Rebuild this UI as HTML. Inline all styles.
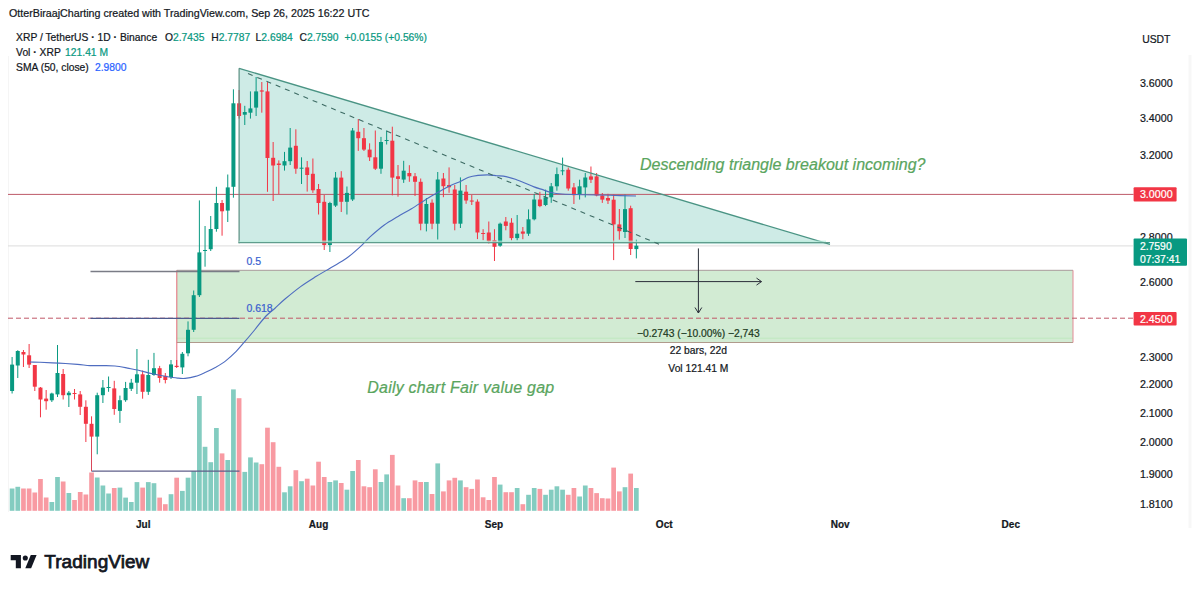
<!DOCTYPE html>
<html><head><meta charset="utf-8"><title>XRP / TetherUS chart</title>
<style>
html,body{margin:0;padding:0;background:#fff;}
body{width:1200px;height:589px;overflow:hidden;position:relative;}
svg{position:absolute;left:0;top:0;display:block;}
text{font-family:'Liberation Sans', Arial, sans-serif;}
.b{stroke:currentColor;stroke-width:0.25px;}
</style></head><body>
<svg width="1200" height="589" viewBox="0 0 1200 589">
<rect x="0" y="0" width="1200" height="589" fill="#ffffff"/>

<line x1="8.5" y1="56" x2="8.5" y2="512" stroke="#f5f5f5" stroke-width="1"/>
<line x1="1190" y1="55" x2="1190" y2="528" stroke="#f7f7f7" stroke-width="3"/>
<rect x="9.75" y="488.5" width="4.7" height="22.3" fill="rgba(8,153,129,0.5)"/>
<rect x="15.42" y="486.8" width="4.7" height="24.0" fill="rgba(8,153,129,0.5)"/>
<rect x="21.10" y="488.5" width="4.7" height="22.3" fill="rgba(242,54,69,0.5)"/>
<rect x="26.77" y="488.5" width="4.7" height="22.3" fill="rgba(242,54,69,0.5)"/>
<rect x="32.45" y="492.5" width="4.7" height="18.3" fill="rgba(242,54,69,0.5)"/>
<rect x="38.12" y="479.0" width="4.7" height="31.8" fill="rgba(242,54,69,0.5)"/>
<rect x="43.80" y="497.5" width="4.7" height="13.3" fill="rgba(242,54,69,0.5)"/>
<rect x="49.48" y="502.0" width="4.7" height="8.8" fill="rgba(8,153,129,0.5)"/>
<rect x="55.15" y="477.0" width="4.7" height="33.8" fill="rgba(8,153,129,0.5)"/>
<rect x="60.82" y="481.5" width="4.7" height="29.3" fill="rgba(242,54,69,0.5)"/>
<rect x="66.50" y="493.0" width="4.7" height="17.8" fill="rgba(8,153,129,0.5)"/>
<rect x="72.17" y="500.0" width="4.7" height="10.8" fill="rgba(242,54,69,0.5)"/>
<rect x="77.85" y="492.0" width="4.7" height="18.8" fill="rgba(242,54,69,0.5)"/>
<rect x="83.52" y="494.5" width="4.7" height="16.3" fill="rgba(242,54,69,0.5)"/>
<rect x="89.20" y="472.5" width="4.7" height="38.3" fill="rgba(242,54,69,0.5)"/>
<rect x="94.88" y="477.5" width="4.7" height="33.3" fill="rgba(8,153,129,0.5)"/>
<rect x="100.55" y="485.5" width="4.7" height="25.3" fill="rgba(8,153,129,0.5)"/>
<rect x="106.22" y="493.5" width="4.7" height="17.3" fill="rgba(8,153,129,0.5)"/>
<rect x="111.90" y="488.0" width="4.7" height="22.8" fill="rgba(242,54,69,0.5)"/>
<rect x="117.58" y="487.6" width="4.7" height="23.2" fill="rgba(8,153,129,0.5)"/>
<rect x="123.25" y="497.6" width="4.7" height="13.2" fill="rgba(8,153,129,0.5)"/>
<rect x="128.93" y="502.0" width="4.7" height="8.8" fill="rgba(8,153,129,0.5)"/>
<rect x="134.60" y="482.1" width="4.7" height="28.7" fill="rgba(8,153,129,0.5)"/>
<rect x="140.28" y="487.6" width="4.7" height="23.2" fill="rgba(242,54,69,0.5)"/>
<rect x="145.95" y="482.1" width="4.7" height="28.7" fill="rgba(8,153,129,0.5)"/>
<rect x="151.62" y="483.2" width="4.7" height="27.6" fill="rgba(8,153,129,0.5)"/>
<rect x="157.30" y="497.6" width="4.7" height="13.2" fill="rgba(242,54,69,0.5)"/>
<rect x="162.97" y="504.2" width="4.7" height="6.6" fill="rgba(242,54,69,0.5)"/>
<rect x="168.65" y="494.2" width="4.7" height="16.6" fill="rgba(8,153,129,0.5)"/>
<rect x="174.32" y="477.7" width="4.7" height="33.1" fill="rgba(242,54,69,0.5)"/>
<rect x="180.00" y="490.9" width="4.7" height="19.9" fill="rgba(8,153,129,0.5)"/>
<rect x="185.67" y="477.7" width="4.7" height="33.1" fill="rgba(8,153,129,0.5)"/>
<rect x="191.35" y="471.0" width="4.7" height="39.8" fill="rgba(8,153,129,0.5)"/>
<rect x="197.03" y="396.0" width="4.7" height="114.8" fill="rgba(8,153,129,0.5)"/>
<rect x="202.70" y="446.8" width="4.7" height="64.0" fill="rgba(8,153,129,0.5)"/>
<rect x="208.38" y="462.2" width="4.7" height="48.6" fill="rgba(8,153,129,0.5)"/>
<rect x="214.05" y="428.0" width="4.7" height="82.8" fill="rgba(8,153,129,0.5)"/>
<rect x="219.72" y="453.4" width="4.7" height="57.4" fill="rgba(242,54,69,0.5)"/>
<rect x="225.40" y="460.0" width="4.7" height="50.8" fill="rgba(8,153,129,0.5)"/>
<rect x="231.07" y="389.4" width="4.7" height="121.4" fill="rgba(8,153,129,0.5)"/>
<rect x="236.75" y="398.2" width="4.7" height="112.6" fill="rgba(242,54,69,0.5)"/>
<rect x="242.42" y="471.9" width="4.7" height="38.9" fill="rgba(8,153,129,0.5)"/>
<rect x="248.10" y="457.4" width="4.7" height="53.4" fill="rgba(8,153,129,0.5)"/>
<rect x="253.78" y="462.5" width="4.7" height="48.3" fill="rgba(8,153,129,0.5)"/>
<rect x="259.45" y="464.2" width="4.7" height="46.6" fill="rgba(242,54,69,0.5)"/>
<rect x="265.12" y="427.7" width="4.7" height="83.1" fill="rgba(242,54,69,0.5)"/>
<rect x="270.80" y="442.2" width="4.7" height="68.6" fill="rgba(242,54,69,0.5)"/>
<rect x="276.47" y="466.8" width="4.7" height="44.0" fill="rgba(242,54,69,0.5)"/>
<rect x="282.15" y="492.3" width="4.7" height="18.5" fill="rgba(8,153,129,0.5)"/>
<rect x="287.82" y="486.3" width="4.7" height="24.5" fill="rgba(8,153,129,0.5)"/>
<rect x="293.50" y="470.2" width="4.7" height="40.6" fill="rgba(242,54,69,0.5)"/>
<rect x="299.18" y="481.2" width="4.7" height="29.6" fill="rgba(8,153,129,0.5)"/>
<rect x="304.85" y="478.7" width="4.7" height="32.1" fill="rgba(242,54,69,0.5)"/>
<rect x="310.52" y="485.5" width="4.7" height="25.3" fill="rgba(242,54,69,0.5)"/>
<rect x="316.20" y="461.7" width="4.7" height="49.1" fill="rgba(242,54,69,0.5)"/>
<rect x="321.88" y="477.0" width="4.7" height="33.8" fill="rgba(242,54,69,0.5)"/>
<rect x="327.55" y="482.0" width="4.7" height="28.8" fill="rgba(8,153,129,0.5)"/>
<rect x="333.22" y="480.4" width="4.7" height="30.4" fill="rgba(8,153,129,0.5)"/>
<rect x="338.90" y="483.0" width="4.7" height="27.8" fill="rgba(242,54,69,0.5)"/>
<rect x="344.57" y="489.7" width="4.7" height="21.1" fill="rgba(8,153,129,0.5)"/>
<rect x="350.25" y="471.0" width="4.7" height="39.8" fill="rgba(8,153,129,0.5)"/>
<rect x="355.93" y="460.0" width="4.7" height="50.8" fill="rgba(242,54,69,0.5)"/>
<rect x="361.60" y="486.3" width="4.7" height="24.5" fill="rgba(242,54,69,0.5)"/>
<rect x="367.27" y="487.2" width="4.7" height="23.6" fill="rgba(242,54,69,0.5)"/>
<rect x="372.95" y="469.3" width="4.7" height="41.5" fill="rgba(242,54,69,0.5)"/>
<rect x="378.62" y="482.0" width="4.7" height="28.8" fill="rgba(8,153,129,0.5)"/>
<rect x="384.30" y="474.4" width="4.7" height="36.4" fill="rgba(8,153,129,0.5)"/>
<rect x="389.97" y="454.9" width="4.7" height="55.9" fill="rgba(242,54,69,0.5)"/>
<rect x="395.65" y="485.5" width="4.7" height="25.3" fill="rgba(242,54,69,0.5)"/>
<rect x="401.32" y="498.2" width="4.7" height="12.6" fill="rgba(8,153,129,0.5)"/>
<rect x="407.00" y="498.2" width="4.7" height="12.6" fill="rgba(242,54,69,0.5)"/>
<rect x="412.68" y="480.4" width="4.7" height="30.4" fill="rgba(242,54,69,0.5)"/>
<rect x="418.35" y="482.0" width="4.7" height="28.8" fill="rgba(242,54,69,0.5)"/>
<rect x="424.02" y="482.0" width="4.7" height="28.8" fill="rgba(8,153,129,0.5)"/>
<rect x="429.70" y="494.0" width="4.7" height="16.8" fill="rgba(242,54,69,0.5)"/>
<rect x="435.38" y="463.4" width="4.7" height="47.4" fill="rgba(8,153,129,0.5)"/>
<rect x="441.05" y="491.4" width="4.7" height="19.4" fill="rgba(242,54,69,0.5)"/>
<rect x="446.72" y="480.4" width="4.7" height="30.4" fill="rgba(242,54,69,0.5)"/>
<rect x="452.40" y="477.8" width="4.7" height="33.0" fill="rgba(242,54,69,0.5)"/>
<rect x="458.07" y="480.4" width="4.7" height="30.4" fill="rgba(8,153,129,0.5)"/>
<rect x="463.75" y="487.2" width="4.7" height="23.6" fill="rgba(242,54,69,0.5)"/>
<rect x="469.43" y="488.9" width="4.7" height="21.9" fill="rgba(242,54,69,0.5)"/>
<rect x="475.10" y="479.5" width="4.7" height="31.3" fill="rgba(242,54,69,0.5)"/>
<rect x="480.77" y="497.3" width="4.7" height="13.5" fill="rgba(242,54,69,0.5)"/>
<rect x="486.45" y="500.0" width="4.7" height="10.8" fill="rgba(242,54,69,0.5)"/>
<rect x="492.12" y="477.0" width="4.7" height="33.8" fill="rgba(242,54,69,0.5)"/>
<rect x="497.80" y="484.6" width="4.7" height="26.2" fill="rgba(8,153,129,0.5)"/>
<rect x="503.47" y="492.2" width="4.7" height="18.6" fill="rgba(242,54,69,0.5)"/>
<rect x="509.15" y="492.2" width="4.7" height="18.6" fill="rgba(242,54,69,0.5)"/>
<rect x="514.82" y="488.0" width="4.7" height="22.8" fill="rgba(8,153,129,0.5)"/>
<rect x="520.50" y="504.2" width="4.7" height="6.6" fill="rgba(242,54,69,0.5)"/>
<rect x="526.17" y="494.8" width="4.7" height="16.0" fill="rgba(8,153,129,0.5)"/>
<rect x="531.85" y="488.0" width="4.7" height="22.8" fill="rgba(8,153,129,0.5)"/>
<rect x="537.52" y="488.9" width="4.7" height="21.9" fill="rgba(242,54,69,0.5)"/>
<rect x="543.20" y="494.8" width="4.7" height="16.0" fill="rgba(8,153,129,0.5)"/>
<rect x="548.88" y="489.7" width="4.7" height="21.1" fill="rgba(8,153,129,0.5)"/>
<rect x="554.55" y="486.3" width="4.7" height="24.5" fill="rgba(8,153,129,0.5)"/>
<rect x="560.23" y="489.7" width="4.7" height="21.1" fill="rgba(8,153,129,0.5)"/>
<rect x="565.90" y="494.8" width="4.7" height="16.0" fill="rgba(242,54,69,0.5)"/>
<rect x="571.57" y="488.0" width="4.7" height="22.8" fill="rgba(242,54,69,0.5)"/>
<rect x="577.25" y="496.5" width="4.7" height="14.3" fill="rgba(8,153,129,0.5)"/>
<rect x="582.92" y="485.5" width="4.7" height="25.3" fill="rgba(8,153,129,0.5)"/>
<rect x="588.60" y="488.0" width="4.7" height="22.8" fill="rgba(242,54,69,0.5)"/>
<rect x="594.27" y="493.1" width="4.7" height="17.7" fill="rgba(242,54,69,0.5)"/>
<rect x="599.95" y="498.2" width="4.7" height="12.6" fill="rgba(242,54,69,0.5)"/>
<rect x="605.62" y="498.5" width="4.7" height="12.3" fill="rgba(242,54,69,0.5)"/>
<rect x="611.30" y="467.6" width="4.7" height="43.2" fill="rgba(242,54,69,0.5)"/>
<rect x="616.98" y="491.4" width="4.7" height="19.4" fill="rgba(242,54,69,0.5)"/>
<rect x="622.65" y="487.2" width="4.7" height="23.6" fill="rgba(8,153,129,0.5)"/>
<rect x="628.32" y="473.6" width="4.7" height="37.2" fill="rgba(242,54,69,0.5)"/>
<rect x="634.00" y="488.0" width="4.7" height="22.8" fill="rgba(8,153,129,0.5)"/>
<rect x="176.8" y="270.3" width="896.2" height="72.2" fill="rgba(76,175,80,0.25)" stroke="none"/>
<line x1="176.8" y1="338.2" x2="1073" y2="338.2" stroke="#bfe8c0" stroke-width="1"/>
<line x1="176.8" y1="270.3" x2="1073" y2="270.3" stroke="#a89a9a" stroke-width="1"/>
<line x1="176.8" y1="342.5" x2="1073" y2="342.5" stroke="#b09a8c" stroke-width="1.2"/>
<line x1="1073" y1="270.3" x2="1073" y2="342.5" stroke="#e38a96" stroke-width="1"/>
<line x1="176.8" y1="270.3" x2="176.8" y2="367" stroke="#e56a78" stroke-width="1"/>
<polygon points="239.1,68.3 830,244.4 830,244.4 239.1,242.8" fill="rgba(8,153,129,0.2)" stroke="none"/>
<line x1="8" y1="245.9" x2="1133" y2="245.9" stroke="#dcdcdc" stroke-width="1"/>
<line x1="8" y1="194.4" x2="1133.6" y2="194.4" stroke="#be5a69" stroke-width="1"/>
<line x1="8" y1="318.2" x2="1133.6" y2="318.2" stroke="#c05868" stroke-width="1" stroke-dasharray="5,3"/>
<line x1="90.5" y1="271.4" x2="239.5" y2="271.4" stroke="#7a7c86" stroke-width="1.5"/>
<line x1="90.5" y1="318.4" x2="239.5" y2="318.4" stroke="#4e5a8e" stroke-width="1.2"/>
<line x1="91.5" y1="471.2" x2="239.5" y2="471.2" stroke="#5f5f8a" stroke-width="1.2"/>
<line x1="91.5" y1="437" x2="91.5" y2="471.2" stroke="#d9485a" stroke-width="1"/>
<text x="246.4" y="264.8" font-size="10.5" fill="#3a5fcf" stroke="#3a5fcf" stroke-width="0.22">0.5</text>
<text x="246.4" y="312" font-size="10.5" fill="#3a5fcf" stroke="#3a5fcf" stroke-width="0.22">0.618</text>
<line x1="12.10" y1="357.0" x2="12.10" y2="393.5" stroke="#089981" stroke-width="1"/>
<rect x="10.10" y="364.6" width="4" height="26.4" fill="#089981"/>
<line x1="17.77" y1="350.2" x2="17.77" y2="378.0" stroke="#089981" stroke-width="1"/>
<rect x="15.77" y="351.0" width="4" height="14.5" fill="#089981"/>
<line x1="23.45" y1="350.0" x2="23.45" y2="367.0" stroke="#F23645" stroke-width="1"/>
<rect x="21.45" y="352.0" width="4" height="2.5" fill="#F23645"/>
<line x1="29.12" y1="344.0" x2="29.12" y2="368.0" stroke="#F23645" stroke-width="1"/>
<rect x="27.12" y="355.3" width="4" height="9.3" fill="#F23645"/>
<line x1="34.80" y1="365.0" x2="34.80" y2="391.0" stroke="#F23645" stroke-width="1"/>
<rect x="32.80" y="365.0" width="4" height="21.7" fill="#F23645"/>
<line x1="40.48" y1="387.0" x2="40.48" y2="417.3" stroke="#F23645" stroke-width="1"/>
<rect x="38.48" y="387.6" width="4" height="11.9" fill="#F23645"/>
<line x1="46.15" y1="390.0" x2="46.15" y2="409.7" stroke="#F23645" stroke-width="1"/>
<rect x="44.15" y="398.6" width="4" height="2.6" fill="#F23645"/>
<line x1="51.83" y1="392.7" x2="51.83" y2="402.0" stroke="#089981" stroke-width="1"/>
<rect x="49.83" y="393.5" width="4" height="6.8" fill="#089981"/>
<line x1="57.50" y1="345.0" x2="57.50" y2="397.0" stroke="#089981" stroke-width="1"/>
<rect x="55.50" y="373.0" width="4" height="21.4" fill="#089981"/>
<line x1="63.17" y1="369.0" x2="63.17" y2="399.5" stroke="#F23645" stroke-width="1"/>
<rect x="61.17" y="374.0" width="4" height="21.2" fill="#F23645"/>
<line x1="68.85" y1="391.0" x2="68.85" y2="407.0" stroke="#089981" stroke-width="1"/>
<rect x="66.85" y="392.7" width="4" height="2.5" fill="#089981"/>
<line x1="74.52" y1="389.0" x2="74.52" y2="399.5" stroke="#F23645" stroke-width="1"/>
<rect x="72.52" y="393.0" width="4" height="1.0" fill="#F23645"/>
<line x1="80.20" y1="391.0" x2="80.20" y2="415.0" stroke="#F23645" stroke-width="1"/>
<rect x="78.20" y="394.4" width="4" height="12.4" fill="#F23645"/>
<line x1="85.87" y1="400.3" x2="85.87" y2="442.0" stroke="#F23645" stroke-width="1"/>
<rect x="83.87" y="406.8" width="4" height="17.0" fill="#F23645"/>
<line x1="91.55" y1="416.3" x2="91.55" y2="437.0" stroke="#F23645" stroke-width="1"/>
<rect x="89.55" y="423.8" width="4" height="12.8" fill="#F23645"/>
<line x1="97.22" y1="392.7" x2="97.22" y2="454.3" stroke="#089981" stroke-width="1"/>
<rect x="95.22" y="395.2" width="4" height="41.4" fill="#089981"/>
<line x1="102.90" y1="380.0" x2="102.90" y2="403.0" stroke="#089981" stroke-width="1"/>
<rect x="100.90" y="387.6" width="4" height="7.6" fill="#089981"/>
<line x1="108.57" y1="376.5" x2="108.57" y2="391.8" stroke="#089981" stroke-width="1"/>
<rect x="106.57" y="387.0" width="4" height="1.0" fill="#089981"/>
<line x1="114.25" y1="380.8" x2="114.25" y2="414.8" stroke="#F23645" stroke-width="1"/>
<rect x="112.25" y="388.4" width="4" height="20.6" fill="#F23645"/>
<line x1="119.92" y1="395.6" x2="119.92" y2="422.9" stroke="#089981" stroke-width="1"/>
<rect x="117.92" y="400.2" width="4" height="10.7" fill="#089981"/>
<line x1="125.60" y1="381.9" x2="125.60" y2="401.8" stroke="#089981" stroke-width="1"/>
<rect x="123.60" y="388.0" width="4" height="12.2" fill="#089981"/>
<line x1="131.28" y1="378.9" x2="131.28" y2="391.0" stroke="#089981" stroke-width="1"/>
<rect x="129.28" y="382.7" width="4" height="6.1" fill="#089981"/>
<line x1="136.95" y1="349.0" x2="136.95" y2="394.0" stroke="#089981" stroke-width="1"/>
<rect x="134.95" y="374.3" width="4" height="8.4" fill="#089981"/>
<line x1="142.62" y1="370.5" x2="142.62" y2="398.7" stroke="#F23645" stroke-width="1"/>
<rect x="140.62" y="374.3" width="4" height="17.5" fill="#F23645"/>
<line x1="148.30" y1="359.8" x2="148.30" y2="394.9" stroke="#089981" stroke-width="1"/>
<rect x="146.30" y="375.0" width="4" height="16.8" fill="#089981"/>
<line x1="153.97" y1="352.9" x2="153.97" y2="375.8" stroke="#089981" stroke-width="1"/>
<rect x="151.97" y="368.2" width="4" height="6.8" fill="#089981"/>
<line x1="159.65" y1="365.9" x2="159.65" y2="382.7" stroke="#F23645" stroke-width="1"/>
<rect x="157.65" y="368.2" width="4" height="9.8" fill="#F23645"/>
<line x1="165.32" y1="373.0" x2="165.32" y2="383.4" stroke="#F23645" stroke-width="1"/>
<rect x="163.32" y="375.8" width="4" height="4.2" fill="#F23645"/>
<line x1="171.00" y1="360.0" x2="171.00" y2="379.0" stroke="#089981" stroke-width="1"/>
<rect x="169.00" y="364.4" width="4" height="12.6" fill="#089981"/>
<line x1="176.67" y1="360.0" x2="176.67" y2="368.0" stroke="#F23645" stroke-width="1"/>
<rect x="174.67" y="365.8" width="4" height="1.2" fill="#F23645"/>
<line x1="182.35" y1="352.0" x2="182.35" y2="374.0" stroke="#089981" stroke-width="1"/>
<rect x="180.35" y="353.8" width="4" height="13.6" fill="#089981"/>
<line x1="188.02" y1="321.4" x2="188.02" y2="356.3" stroke="#089981" stroke-width="1"/>
<rect x="186.02" y="329.8" width="4" height="23.5" fill="#089981"/>
<line x1="193.70" y1="290.5" x2="193.70" y2="332.0" stroke="#089981" stroke-width="1"/>
<rect x="191.70" y="295.2" width="4" height="34.6" fill="#089981"/>
<line x1="199.38" y1="200.4" x2="199.38" y2="297.0" stroke="#089981" stroke-width="1"/>
<rect x="197.38" y="252.4" width="4" height="42.8" fill="#089981"/>
<line x1="205.05" y1="226.0" x2="205.05" y2="266.7" stroke="#089981" stroke-width="1"/>
<rect x="203.05" y="250.0" width="4" height="1.0" fill="#089981"/>
<line x1="210.72" y1="216.0" x2="210.72" y2="251.0" stroke="#089981" stroke-width="1"/>
<rect x="208.72" y="229.0" width="4" height="20.2" fill="#089981"/>
<line x1="216.40" y1="186.8" x2="216.40" y2="231.7" stroke="#089981" stroke-width="1"/>
<rect x="214.40" y="203.0" width="4" height="26.0" fill="#089981"/>
<line x1="222.07" y1="200.0" x2="222.07" y2="235.7" stroke="#F23645" stroke-width="1"/>
<rect x="220.07" y="203.0" width="4" height="8.3" fill="#F23645"/>
<line x1="227.75" y1="174.5" x2="227.75" y2="222.0" stroke="#089981" stroke-width="1"/>
<rect x="225.75" y="187.4" width="4" height="23.2" fill="#089981"/>
<line x1="233.42" y1="89.3" x2="233.42" y2="197.7" stroke="#089981" stroke-width="1"/>
<rect x="231.42" y="103.3" width="4" height="83.5" fill="#089981"/>
<line x1="239.10" y1="90.0" x2="239.10" y2="118.6" stroke="#F23645" stroke-width="1"/>
<rect x="237.10" y="103.3" width="4" height="12.7" fill="#F23645"/>
<line x1="244.77" y1="105.8" x2="244.77" y2="125.0" stroke="#089981" stroke-width="1"/>
<rect x="242.77" y="112.0" width="4" height="2.7" fill="#089981"/>
<line x1="250.45" y1="91.4" x2="250.45" y2="118.6" stroke="#089981" stroke-width="1"/>
<rect x="248.45" y="108.4" width="4" height="4.3" fill="#089981"/>
<line x1="256.12" y1="77.0" x2="256.12" y2="116.0" stroke="#089981" stroke-width="1"/>
<rect x="254.12" y="91.4" width="4" height="16.2" fill="#089981"/>
<line x1="261.80" y1="82.0" x2="261.80" y2="112.7" stroke="#F23645" stroke-width="1"/>
<rect x="259.80" y="90.4" width="4" height="1.2" fill="#F23645"/>
<line x1="267.48" y1="82.1" x2="267.48" y2="191.8" stroke="#F23645" stroke-width="1"/>
<rect x="265.48" y="91.4" width="4" height="66.6" fill="#F23645"/>
<line x1="273.15" y1="142.0" x2="273.15" y2="201.0" stroke="#F23645" stroke-width="1"/>
<rect x="271.15" y="157.8" width="4" height="7.7" fill="#F23645"/>
<line x1="278.82" y1="160.4" x2="278.82" y2="194.0" stroke="#F23645" stroke-width="1"/>
<rect x="276.82" y="163.5" width="4" height="1.5" fill="#F23645"/>
<line x1="284.50" y1="151.9" x2="284.50" y2="170.6" stroke="#089981" stroke-width="1"/>
<rect x="282.50" y="161.2" width="4" height="4.3" fill="#089981"/>
<line x1="290.18" y1="128.0" x2="290.18" y2="165.0" stroke="#089981" stroke-width="1"/>
<rect x="288.18" y="147.6" width="4" height="13.6" fill="#089981"/>
<line x1="295.85" y1="129.3" x2="295.85" y2="173.8" stroke="#F23645" stroke-width="1"/>
<rect x="293.85" y="145.8" width="4" height="22.9" fill="#F23645"/>
<line x1="301.53" y1="157.3" x2="301.53" y2="184.0" stroke="#089981" stroke-width="1"/>
<rect x="299.53" y="167.7" width="4" height="1.0" fill="#089981"/>
<line x1="307.20" y1="161.0" x2="307.20" y2="191.6" stroke="#F23645" stroke-width="1"/>
<rect x="305.20" y="167.4" width="4" height="7.6" fill="#F23645"/>
<line x1="312.88" y1="158.5" x2="312.88" y2="192.9" stroke="#F23645" stroke-width="1"/>
<rect x="310.88" y="173.8" width="4" height="16.5" fill="#F23645"/>
<line x1="318.55" y1="184.0" x2="318.55" y2="214.5" stroke="#F23645" stroke-width="1"/>
<rect x="316.55" y="189.0" width="4" height="14.0" fill="#F23645"/>
<line x1="324.23" y1="195.0" x2="324.23" y2="250.0" stroke="#F23645" stroke-width="1"/>
<rect x="322.23" y="201.8" width="4" height="43.2" fill="#F23645"/>
<line x1="329.90" y1="201.8" x2="329.90" y2="252.0" stroke="#089981" stroke-width="1"/>
<rect x="327.90" y="203.0" width="4" height="42.0" fill="#089981"/>
<line x1="335.57" y1="172.0" x2="335.57" y2="207.0" stroke="#089981" stroke-width="1"/>
<rect x="333.57" y="177.6" width="4" height="28.0" fill="#089981"/>
<line x1="341.25" y1="171.2" x2="341.25" y2="212.0" stroke="#F23645" stroke-width="1"/>
<rect x="339.25" y="177.6" width="4" height="24.2" fill="#F23645"/>
<line x1="346.93" y1="186.5" x2="346.93" y2="214.5" stroke="#089981" stroke-width="1"/>
<rect x="344.93" y="192.9" width="4" height="8.9" fill="#089981"/>
<line x1="352.60" y1="128.0" x2="352.60" y2="201.0" stroke="#089981" stroke-width="1"/>
<rect x="350.60" y="130.5" width="4" height="69.0" fill="#089981"/>
<line x1="358.28" y1="119.0" x2="358.28" y2="150.9" stroke="#F23645" stroke-width="1"/>
<rect x="356.28" y="131.8" width="4" height="6.4" fill="#F23645"/>
<line x1="363.95" y1="128.0" x2="363.95" y2="151.0" stroke="#F23645" stroke-width="1"/>
<rect x="361.95" y="138.2" width="4" height="11.4" fill="#F23645"/>
<line x1="369.62" y1="143.3" x2="369.62" y2="161.0" stroke="#F23645" stroke-width="1"/>
<rect x="367.62" y="149.6" width="4" height="7.7" fill="#F23645"/>
<line x1="375.30" y1="130.5" x2="375.30" y2="170.0" stroke="#F23645" stroke-width="1"/>
<rect x="373.30" y="157.3" width="4" height="11.4" fill="#F23645"/>
<line x1="380.98" y1="136.9" x2="380.98" y2="173.8" stroke="#089981" stroke-width="1"/>
<rect x="378.98" y="142.0" width="4" height="26.7" fill="#089981"/>
<line x1="386.65" y1="130.5" x2="386.65" y2="144.5" stroke="#089981" stroke-width="1"/>
<rect x="384.65" y="140.0" width="4" height="1.0" fill="#089981"/>
<line x1="392.32" y1="126.7" x2="392.32" y2="195.4" stroke="#F23645" stroke-width="1"/>
<rect x="390.32" y="140.7" width="4" height="36.9" fill="#F23645"/>
<line x1="398.00" y1="165.0" x2="398.00" y2="196.7" stroke="#F23645" stroke-width="1"/>
<rect x="396.00" y="176.3" width="4" height="2.6" fill="#F23645"/>
<line x1="403.68" y1="160.8" x2="403.68" y2="182.9" stroke="#089981" stroke-width="1"/>
<rect x="401.68" y="170.7" width="4" height="8.9" fill="#089981"/>
<line x1="409.35" y1="165.2" x2="409.35" y2="181.8" stroke="#F23645" stroke-width="1"/>
<rect x="407.35" y="173.0" width="4" height="3.3" fill="#F23645"/>
<line x1="415.03" y1="173.0" x2="415.03" y2="196.0" stroke="#F23645" stroke-width="1"/>
<rect x="413.03" y="176.3" width="4" height="5.5" fill="#F23645"/>
<line x1="420.70" y1="178.5" x2="420.70" y2="230.3" stroke="#F23645" stroke-width="1"/>
<rect x="418.70" y="181.8" width="4" height="41.9" fill="#F23645"/>
<line x1="426.38" y1="198.0" x2="426.38" y2="231.4" stroke="#089981" stroke-width="1"/>
<rect x="424.38" y="204.0" width="4" height="19.7" fill="#089981"/>
<line x1="432.05" y1="199.4" x2="432.05" y2="229.2" stroke="#F23645" stroke-width="1"/>
<rect x="430.05" y="202.7" width="4" height="21.0" fill="#F23645"/>
<line x1="437.73" y1="172.0" x2="437.73" y2="239.5" stroke="#089981" stroke-width="1"/>
<rect x="435.73" y="179.5" width="4" height="44.2" fill="#089981"/>
<line x1="443.40" y1="173.0" x2="443.40" y2="197.2" stroke="#F23645" stroke-width="1"/>
<rect x="441.40" y="178.5" width="4" height="7.7" fill="#F23645"/>
<line x1="449.07" y1="167.4" x2="449.07" y2="192.8" stroke="#F23645" stroke-width="1"/>
<rect x="447.07" y="185.0" width="4" height="2.3" fill="#F23645"/>
<line x1="454.75" y1="185.0" x2="454.75" y2="230.3" stroke="#F23645" stroke-width="1"/>
<rect x="452.75" y="189.5" width="4" height="34.2" fill="#F23645"/>
<line x1="460.43" y1="177.4" x2="460.43" y2="228.0" stroke="#089981" stroke-width="1"/>
<rect x="458.43" y="190.6" width="4" height="33.1" fill="#089981"/>
<line x1="466.10" y1="185.0" x2="466.10" y2="203.8" stroke="#F23645" stroke-width="1"/>
<rect x="464.10" y="191.7" width="4" height="8.8" fill="#F23645"/>
<line x1="471.78" y1="195.0" x2="471.78" y2="205.0" stroke="#F23645" stroke-width="1"/>
<rect x="469.78" y="200.5" width="4" height="1.1" fill="#F23645"/>
<line x1="477.45" y1="199.4" x2="477.45" y2="239.1" stroke="#F23645" stroke-width="1"/>
<rect x="475.45" y="201.6" width="4" height="30.9" fill="#F23645"/>
<line x1="483.12" y1="229.2" x2="483.12" y2="240.2" stroke="#F23645" stroke-width="1"/>
<rect x="481.12" y="233.0" width="4" height="1.0" fill="#F23645"/>
<line x1="488.80" y1="221.5" x2="488.80" y2="243.5" stroke="#F23645" stroke-width="1"/>
<rect x="486.80" y="232.5" width="4" height="8.8" fill="#F23645"/>
<line x1="494.48" y1="229.2" x2="494.48" y2="261.0" stroke="#F23645" stroke-width="1"/>
<rect x="492.48" y="240.2" width="4" height="6.6" fill="#F23645"/>
<line x1="500.15" y1="222.6" x2="500.15" y2="246.8" stroke="#089981" stroke-width="1"/>
<rect x="498.15" y="223.7" width="4" height="22.0" fill="#089981"/>
<line x1="505.82" y1="217.0" x2="505.82" y2="230.3" stroke="#F23645" stroke-width="1"/>
<rect x="503.82" y="221.5" width="4" height="4.4" fill="#F23645"/>
<line x1="511.50" y1="218.2" x2="511.50" y2="240.3" stroke="#F23645" stroke-width="1"/>
<rect x="509.50" y="222.7" width="4" height="15.4" fill="#F23645"/>
<line x1="517.17" y1="215.0" x2="517.17" y2="240.3" stroke="#089981" stroke-width="1"/>
<rect x="515.17" y="233.7" width="4" height="4.4" fill="#089981"/>
<line x1="522.85" y1="227.0" x2="522.85" y2="239.2" stroke="#F23645" stroke-width="1"/>
<rect x="520.85" y="231.5" width="4" height="2.2" fill="#F23645"/>
<line x1="528.52" y1="209.4" x2="528.52" y2="235.9" stroke="#089981" stroke-width="1"/>
<rect x="526.52" y="219.3" width="4" height="14.4" fill="#089981"/>
<line x1="534.20" y1="194.0" x2="534.20" y2="220.4" stroke="#089981" stroke-width="1"/>
<rect x="532.20" y="199.5" width="4" height="19.8" fill="#089981"/>
<line x1="539.88" y1="191.8" x2="539.88" y2="207.2" stroke="#F23645" stroke-width="1"/>
<rect x="537.88" y="199.5" width="4" height="6.6" fill="#F23645"/>
<line x1="545.55" y1="189.6" x2="545.55" y2="206.1" stroke="#089981" stroke-width="1"/>
<rect x="543.55" y="197.3" width="4" height="7.7" fill="#089981"/>
<line x1="551.23" y1="183.0" x2="551.23" y2="202.8" stroke="#089981" stroke-width="1"/>
<rect x="549.23" y="186.3" width="4" height="11.0" fill="#089981"/>
<line x1="556.90" y1="167.5" x2="556.90" y2="190.7" stroke="#089981" stroke-width="1"/>
<rect x="554.90" y="174.1" width="4" height="12.2" fill="#089981"/>
<line x1="562.58" y1="157.6" x2="562.58" y2="175.2" stroke="#089981" stroke-width="1"/>
<rect x="560.58" y="170.3" width="4" height="1.0" fill="#089981"/>
<line x1="568.25" y1="167.5" x2="568.25" y2="190.7" stroke="#F23645" stroke-width="1"/>
<rect x="566.25" y="169.7" width="4" height="18.8" fill="#F23645"/>
<line x1="573.92" y1="183.0" x2="573.92" y2="204.0" stroke="#F23645" stroke-width="1"/>
<rect x="571.92" y="187.4" width="4" height="7.8" fill="#F23645"/>
<line x1="579.60" y1="179.7" x2="579.60" y2="199.6" stroke="#089981" stroke-width="1"/>
<rect x="577.60" y="186.3" width="4" height="7.7" fill="#089981"/>
<line x1="585.27" y1="173.0" x2="585.27" y2="197.4" stroke="#089981" stroke-width="1"/>
<rect x="583.27" y="177.5" width="4" height="9.9" fill="#089981"/>
<line x1="590.95" y1="166.5" x2="590.95" y2="183.0" stroke="#F23645" stroke-width="1"/>
<rect x="588.95" y="176.4" width="4" height="3.3" fill="#F23645"/>
<line x1="596.62" y1="173.0" x2="596.62" y2="196.3" stroke="#F23645" stroke-width="1"/>
<rect x="594.62" y="176.4" width="4" height="19.1" fill="#F23645"/>
<line x1="602.30" y1="193.0" x2="602.30" y2="202.9" stroke="#F23645" stroke-width="1"/>
<rect x="600.30" y="195.5" width="4" height="4.1" fill="#F23645"/>
<line x1="607.98" y1="193.8" x2="607.98" y2="204.0" stroke="#F23645" stroke-width="1"/>
<rect x="605.98" y="198.0" width="4" height="2.6" fill="#F23645"/>
<line x1="613.65" y1="194.6" x2="613.65" y2="260.1" stroke="#F23645" stroke-width="1"/>
<rect x="611.65" y="199.7" width="4" height="24.7" fill="#F23645"/>
<line x1="619.33" y1="209.0" x2="619.33" y2="239.7" stroke="#F23645" stroke-width="1"/>
<rect x="617.33" y="224.4" width="4" height="6.8" fill="#F23645"/>
<line x1="625.00" y1="194.6" x2="625.00" y2="238.0" stroke="#089981" stroke-width="1"/>
<rect x="623.00" y="209.1" width="4" height="22.9" fill="#089981"/>
<line x1="630.67" y1="205.7" x2="630.67" y2="255.0" stroke="#F23645" stroke-width="1"/>
<rect x="628.67" y="208.2" width="4" height="40.8" fill="#F23645"/>
<line x1="636.35" y1="239.7" x2="636.35" y2="258.4" stroke="#089981" stroke-width="1"/>
<rect x="634.35" y="245.7" width="4" height="3.4" fill="#089981"/>
<path d="M30.0,362.0 C31.7,362.1 35.2,362.1 40.0,362.3 C44.8,362.5 52.5,362.8 58.8,363.1 C65.0,363.5 72.3,364.0 77.5,364.4 C82.7,364.8 85.8,365.4 90.0,365.6 C94.2,365.8 98.3,365.5 102.5,365.6 C106.7,365.7 110.8,365.6 115.0,366.0 C119.2,366.4 123.8,367.4 127.5,368.1 C131.2,368.8 133.3,369.1 137.5,370.0 C141.7,370.9 147.9,372.8 152.5,373.8 C157.1,374.9 160.8,375.6 165.0,376.3 C169.2,377.0 174.1,377.8 177.5,378.1 C180.9,378.5 182.2,378.7 185.2,378.4 C188.2,378.1 192.0,377.4 195.4,376.4 C198.8,375.4 202.2,373.8 205.6,372.3 C209.0,370.8 212.4,369.1 215.8,367.2 C219.2,365.2 222.6,363.2 226.0,360.6 C229.4,358.0 233.1,354.5 236.2,351.4 C239.2,348.3 241.2,345.8 244.3,342.2 C247.4,338.6 251.5,333.8 255.0,329.5 C258.5,325.2 262.2,320.1 265.5,316.5 C268.8,312.9 271.7,311.1 275.0,308.2 C278.3,305.2 281.0,302.4 285.3,298.8 C289.6,295.2 295.5,290.3 300.6,286.6 C305.7,282.9 310.8,279.8 315.9,276.6 C321.0,273.4 326.1,270.6 331.2,267.5 C336.3,264.4 341.4,262.0 346.5,258.3 C351.6,254.6 357.8,248.9 361.7,245.3 C365.6,241.7 366.2,240.3 370.0,236.9 C373.8,233.5 379.6,228.4 384.3,225.0 C389.0,221.6 393.5,219.2 398.0,216.5 C402.5,213.8 405.6,212.3 411.5,208.7 C417.4,205.1 426.9,198.9 433.3,195.1 C439.7,191.3 445.7,187.9 450.0,185.7 C454.3,183.5 456.2,183.3 459.3,181.9 C462.4,180.5 465.6,178.4 468.7,177.3 C471.8,176.2 474.9,175.8 478.0,175.4 C481.1,175.0 484.2,174.9 487.3,174.9 C490.4,174.9 493.6,175.4 496.7,175.7 C499.8,176.0 502.9,176.0 506.0,176.6 C509.1,177.2 512.3,178.2 515.4,179.3 C518.5,180.4 521.6,181.7 524.7,183.0 C527.8,184.3 530.9,185.8 534.0,186.9 C537.1,188.1 540.7,189.0 543.4,189.9 C546.1,190.8 546.9,191.5 550.0,192.2 C553.1,192.9 556.2,193.6 562.0,194.0 C567.8,194.4 577.0,194.6 585.0,194.8 C593.0,195.0 601.5,195.1 610.0,195.3 C618.5,195.5 631.7,195.9 636.0,196.0" fill="none" stroke="#4f6dc0" stroke-width="1.15"/>
<line x1="239.1" y1="68.3" x2="830" y2="244.4" stroke="#4a9484" stroke-width="1.3"/>
<line x1="239.1" y1="68.3" x2="239.1" y2="243.2" stroke="#5a8f82" stroke-width="1.2"/>
<line x1="239.1" y1="241.2" x2="826" y2="241.2" stroke="#b8eedc" stroke-width="1"/>
<line x1="238.5" y1="242.7" x2="830" y2="242.7" stroke="#5f9d8d" stroke-width="1.2"/>
<line x1="248" y1="73.6" x2="662" y2="245.4" stroke="#3d6b64" stroke-width="1.1" stroke-dasharray="5,5"/>
<g stroke="#2a2e39" stroke-width="1" fill="none">
<line x1="698.4" y1="248.4" x2="698.4" y2="313"/>
<polyline points="695,307.5 698.4,313 701.8,307.5"/>
<line x1="635.3" y1="281.6" x2="761.5" y2="281.6"/>
<polyline points="756.5,278.1 761.5,281.6 756.5,285.1"/>
</g>
<text x="698.4" y="336.7" font-size="10.3" fill="#1c3a22" text-anchor="middle" stroke="#1c3a22" stroke-width="0.22">−0.2743 (−10.00%) −2,743</text>
<text x="698.4" y="354" font-size="10.3" fill="#131722" text-anchor="middle" stroke="#131722" stroke-width="0.22">22 bars, 22d</text>
<text x="698.4" y="372" font-size="10.3" fill="#131722" text-anchor="middle" stroke="#131722" stroke-width="0.22">Vol 121.41 M</text>
<text x="640" y="169.7" font-size="16" font-style="italic" fill="#5aa55e" stroke="#5aa55e" stroke-width="0.22">Descending triangle breakout incoming?</text>
<text x="367.3" y="393.2" font-size="16" font-style="italic" letter-spacing="0.22" fill="#5aa55e" stroke="#5aa55e" stroke-width="0.22">Daily chart Fair value gap</text>
<text x="9" y="17.1" font-size="10.7" fill="#131722" stroke="#131722" stroke-width="0.22">OtterBiraajCharting created with TradingView.com, Sep 26, 2025 16:22 UTC</text>
<text x="16.1" y="41.1" font-size="10.3" fill="#131722" stroke="#131722" stroke-width="0.22">XRP / TetherUS <tspan font-weight="bold">·</tspan> 1D <tspan font-weight="bold">·</tspan> Binance</text>
<text x="165" y="41.1" font-size="10.3" fill="#131722" stroke="#131722" stroke-width="0.22">O<tspan fill="#089981" stroke="#089981" stroke-width="0.22">2.7435</tspan></text>
<text x="211.3" y="41.1" font-size="10.3" fill="#131722" stroke="#131722" stroke-width="0.22">H<tspan fill="#089981" stroke="#089981" stroke-width="0.22">2.7787</tspan></text>
<text x="255.6" y="41.1" font-size="10.3" fill="#131722" stroke="#131722" stroke-width="0.22">L<tspan fill="#089981" stroke="#089981" stroke-width="0.22">2.6984</tspan></text>
<text x="299.5" y="41.1" font-size="10.3" fill="#131722" stroke="#131722" stroke-width="0.22">C<tspan fill="#089981" stroke="#089981" stroke-width="0.22">2.7590</tspan></text>
<text x="344.5" y="41.1" font-size="10.3" fill="#089981" stroke="#089981" stroke-width="0.22">+0.0155 (+0.56%)</text>
<text x="16.1" y="56.2" font-size="10.3" fill="#131722" stroke="#131722" stroke-width="0.22">Vol <tspan font-weight="bold">·</tspan> XRP</text>
<text x="65.1" y="56.2" font-size="10.3" fill="#089981" stroke="#089981" stroke-width="0.22">121.41 M</text>
<text x="16.1" y="71.2" font-size="10.3" fill="#131722" stroke="#131722" stroke-width="0.22">SMA (50, close)</text>
<text x="95" y="71.2" font-size="10.3" fill="#2962FF" stroke="#2962FF" stroke-width="0.22">2.9800</text>
<text x="1156.3" y="42.5" font-size="10.4" fill="#131722" text-anchor="middle" stroke="#131722" stroke-width="0.22">USDT</text>
<text x="1172.6" y="87.2" font-size="10.7" fill="#131722" text-anchor="end" stroke="#131722" stroke-width="0.22">3.6000</text>
<text x="1172.6" y="122.1" font-size="10.7" fill="#131722" text-anchor="end" stroke="#131722" stroke-width="0.22">3.4000</text>
<text x="1172.6" y="159.2" font-size="10.7" fill="#131722" text-anchor="end" stroke="#131722" stroke-width="0.22">3.2000</text>
<text x="1172.6" y="240.8" font-size="10.7" fill="#131722" text-anchor="end" stroke="#131722" stroke-width="0.22">2.8000</text>
<text x="1172.6" y="286.1" font-size="10.7" fill="#131722" text-anchor="end" stroke="#131722" stroke-width="0.22">2.6000</text>
<text x="1172.6" y="361.0" font-size="10.7" fill="#131722" text-anchor="end" stroke="#131722" stroke-width="0.22">2.3000</text>
<text x="1172.6" y="388.2" font-size="10.7" fill="#131722" text-anchor="end" stroke="#131722" stroke-width="0.22">2.2000</text>
<text x="1172.6" y="416.6" font-size="10.7" fill="#131722" text-anchor="end" stroke="#131722" stroke-width="0.22">2.1000</text>
<text x="1172.6" y="446.4" font-size="10.7" fill="#131722" text-anchor="end" stroke="#131722" stroke-width="0.22">2.0000</text>
<text x="1172.6" y="477.8" font-size="10.7" fill="#131722" text-anchor="end" stroke="#131722" stroke-width="0.22">1.9000</text>
<text x="1172.6" y="507.5" font-size="10.7" fill="#131722" text-anchor="end" stroke="#131722" stroke-width="0.22">1.8100</text>
<rect x="1133.6" y="187.3" width="43" height="14.2" rx="1" fill="#F23645"/>
<text x="1172.6" y="198.4" font-size="10.7" fill="#ffffff" text-anchor="end" stroke="#ffffff" stroke-width="0.22">3.0000</text>
<rect x="1133.6" y="312" width="43" height="13.6" rx="1" fill="#F23645"/>
<text x="1172.6" y="322.8" font-size="10.7" fill="#ffffff" text-anchor="end" stroke="#ffffff" stroke-width="0.22">2.4500</text>
<rect x="1133.6" y="238.5" width="53.4" height="27.2" rx="1" fill="#089981"/>
<text x="1139.9" y="250" font-size="10.4" fill="#ffffff" stroke="#ffffff" stroke-width="0.22">2.7590</text>
<text x="1139.9" y="262.5" font-size="10.4" fill="#ffffff" stroke="#ffffff" stroke-width="0.22">07:37:41</text>
<text x="143.2" y="528" font-size="10" font-weight="bold" fill="#131722" text-anchor="middle" stroke="#131722" stroke-width="0.22">Jul</text>
<text x="318.6" y="528" font-size="10" font-weight="bold" fill="#131722" text-anchor="middle" stroke="#131722" stroke-width="0.22">Aug</text>
<text x="494" y="528" font-size="10" font-weight="bold" fill="#131722" text-anchor="middle" stroke="#131722" stroke-width="0.22">Sep</text>
<text x="664.2" y="528" font-size="10" font-weight="bold" fill="#131722" text-anchor="middle" stroke="#131722" stroke-width="0.22">Oct</text>
<text x="840.2" y="528" font-size="10" font-weight="bold" fill="#131722" text-anchor="middle" stroke="#131722" stroke-width="0.22">Nov</text>
<text x="1010.8" y="528" font-size="10" font-weight="bold" fill="#131722" text-anchor="middle" stroke="#131722" stroke-width="0.22">Dec</text>
<g transform="translate(10.7,552.1) scale(0.73)" fill="#131722"><path d="M14 22H7V11H0V4h14v18zM28 22h-8l7.5-18h8L28 22z"/><circle cx="20" cy="8" r="3.5"/></g>
<text x="44.2" y="568.4" font-size="19" letter-spacing="0.05" fill="#131722" stroke="#131722" stroke-width="0.75">TradingView</text>
</svg></body></html>
